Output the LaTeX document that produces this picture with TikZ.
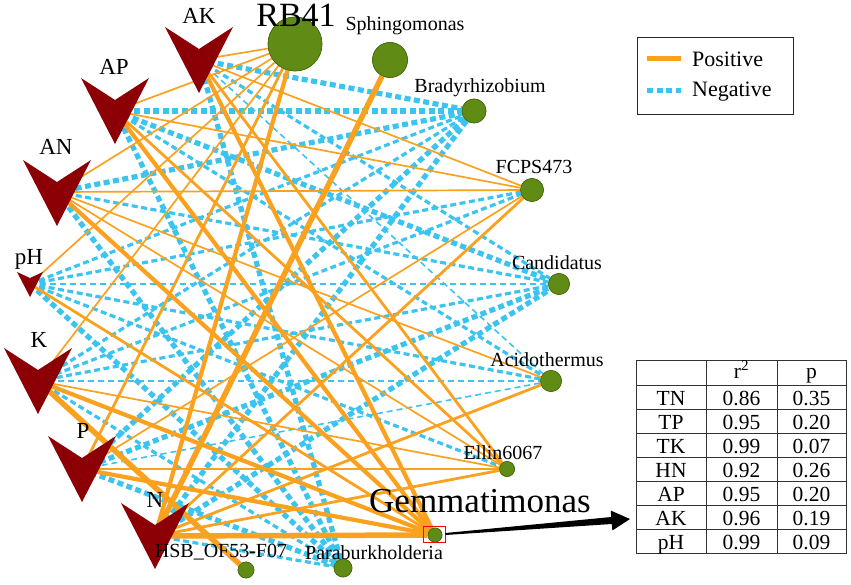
\documentclass[tikz,border=0pt]{standalone}
\usepackage{fontspec}
\setmainfont{Liberation Serif}
\usetikzlibrary{calc}
\definecolor{posc}{RGB}{250,162,32}
\definecolor{negc}{RGB}{60,196,240}
\definecolor{chevc}{RGB}{140,0,5}
\definecolor{bactc}{RGB}{96,140,22}
\definecolor{bactd}{RGB}{70,105,15}
\tikzset{
 pos1/.style={draw=posc, line width=1.7pt},
 pos2/.style={draw=posc, line width=2.8pt},
 pos3/.style={draw=posc, line width=4.2pt},
 pos4/.style={draw=posc, line width=5.5pt},
 neg1/.style={draw=negc, line width=1.6pt, dash pattern=on 6pt off 4pt},
 neg2/.style={draw=negc, line width=3.2pt, dash pattern=on 6pt off 3.5pt},
 neg3/.style={draw=negc, line width=5.2pt, dash pattern=on 6pt off 3.5pt},
 bact/.style={circle, fill=bactc, draw=bactd, line width=0.6pt, inner sep=0pt},
 blab/.style={anchor=base, font=\fontsize{20}{20}\selectfont, inner sep=0pt},
 flab/.style={anchor=base, font=\fontsize{23}{23}\selectfont, inner sep=0pt},
 chevron/.pic={\fill[chevc] (-34,-22) -- (0,0) -- (34,-22) -- (0,44) -- cycle;},
 smallchev/.pic={\fill[chevc] (-13,-6) -- (0,0) -- (13,-6) -- (0,19) -- cycle;},
 tcell/.style={anchor=base, font=\fontsize{21.5}{21.5}\selectfont, inner sep=0pt},
}
\begin{document}
\begin{tikzpicture}[x=1pt,y=-1pt]
\useasboundingbox (0,0) rectangle (851,585);
% factor anchors
\coordinate (AK) at (199,60);
\coordinate (AP) at (115,111);
\coordinate (AN) at (57,192);
\coordinate (pH) at (30,284);
\coordinate (K) at (38,381);
\coordinate (P) at (82,469);
\coordinate (N) at (155,536);
% bacteria
\node[bact, minimum size=54pt] (RB41) at (295,44) {};
\node[bact, minimum size=35pt] (Sph) at (390,60) {};
\node[bact, minimum size=24pt] (Bra) at (474,111) {};
\node[bact, minimum size=23pt] (FCP) at (532,190) {};
\node[bact, minimum size=21pt] (Can) at (559,284) {};
\node[bact, minimum size=21pt] (Aci) at (551,381) {};
\node[bact, minimum size=15pt] (Ell) at (507,469) {};
\node[bact, minimum size=14pt] (Gem) at (435,535) {};
\node[bact, minimum size=18pt] (Par) at (343,568) {};
\node[bact, minimum size=16pt] (HSB) at (246,570) {};
% edges
\foreach \f/\b/\s in {
 AK/Bra/neg3, AP/Bra/neg3, AN/Bra/neg3, pH/Bra/neg2, K/Bra/neg2, P/Bra/neg3, N/Bra/neg3,
 AK/Can/neg2, AP/Can/neg3, AN/Can/neg2, pH/Can/neg1, K/Can/neg2, P/Can/neg3, N/Can/neg3,
 AK/Aci/neg1, AP/Aci/neg2, pH/Aci/neg2, K/Aci/neg1, P/Aci/neg1,
 pH/FCP/neg2, K/FCP/neg2, pH/Ell/neg2,
 AK/Par/neg3, AP/Par/neg3, AN/Par/neg3, pH/Par/neg3, K/Par/neg2, P/Par/neg3, N/Par/neg2,
 AK/RB41/pos1, AP/RB41/pos1, AN/RB41/pos1, pH/RB41/pos1, K/RB41/pos1, P/RB41/pos2, N/RB41/pos3,
 N/Sph/pos4,
 AK/FCP/pos1, AP/FCP/pos1, AN/FCP/pos1, P/FCP/pos1, N/FCP/pos2,
 AN/Aci/pos1, N/Aci/pos2,
 AK/Ell/pos2, AP/Ell/pos2, AN/Ell/pos1, K/Ell/pos1, P/Ell/pos2, N/Ell/pos2,
 AK/Gem/pos3, AP/Gem/pos3, AN/Gem/pos3, pH/Gem/pos2, K/Gem/pos3, P/Gem/pos3, N/Gem/pos4,
 K/HSB/pos4}
 {\draw[\s] (\f) -- (\b);}
% redraw bacteria on top
\foreach \n/\r in {RB41/54, Sph/35, Bra/24, FCP/23, Can/21, Aci/21, Ell/15, Gem/14, Par/18, HSB/16}
 {\fill[bactc] (\n.center) circle (\r/2); \draw[bactd, line width=0.6pt] (\n.center) circle (\r/2);}
% chevrons
\pic at ($(AK)+(0,-11)$) {chevron};
\pic at ($(AP)+(0,-11)$) {chevron};
\pic at ($(AN)+(0,-10)$) {chevron};
\pic at ($(pH)+(0,-6)$) {smallchev};
\pic at ($(K)+(0,-11)$) {chevron};
\pic at ($(P)+(0,-11)$) {chevron};
\pic at ($(N)+(0,-11)$) {chevron};
% factor labels
\node[flab] (lAK) at (199,24) {AK};
\node[flab] (lAP) at (114,75) {AP};
\node[flab] (lAN) at (56,155) {AN};
\node[flab] (lpH) at (29,265) {pH};
\node[flab] (lK) at (39,347) {K};
\node[flab] (lP) at (83,438) {P};
\node[flab] (lN) at (155,507) {N};
% bacteria labels
\node[blab, font=\fontsize{34}{34}\selectfont] (lRB41) at (296,27) {RB41};
\node[blab] (lSph) at (405,31) {Sphingomonas};
\node[blab] (lBra) at (480,93) {Bradyrhizobium};
\node[blab] (lFCP) at (534,174) {FCPS473};
\node[blab] (lCan) at (557,270) {Candidatus};
\node[blab] (lAci) at (547,366) {Acidothermus};
\node[blab] (lEll) at (503,459) {Ellin6067};
\node[blab, font=\fontsize{35}{35}\selectfont] (lGem) at (480,512) {Gemmatimonas};
\node[blab] (lPar) at (374,559) {Paraburkholderia};
\node[blab] (lHSB) at (221,557) {HSB\_OF53-F07};
% highlight box and arrow
\node[draw=red, line width=0.9pt, minimum width=22pt, minimum height=16pt, inner sep=0pt] (gbox) at (434,534) {};
\coordinate (gs) at (gbox.east);
\coordinate (ge) at (630,519);
\coordinate (gb) at ($(gs)!0.9!(ge)$);
\fill[black] ($(gs)!1pt!90:(ge)$) -- ($(gb)!3.5pt!90:(ge)$) -- ($(gb)!10pt!90:(ge)$) -- (ge)
  -- ($(gb)!10pt!-90:(ge)$) -- ($(gb)!3.5pt!-90:(ge)$) -- ($(gs)!1pt!-90:(ge)$) -- cycle;
% legend
\node[draw=black!85, line width=1pt, minimum width=156pt, minimum height=77pt, inner sep=0pt] (leg) at (715,76.5) {};
\coordinate (lp1) at (647,59); \coordinate (lp2) at (681,59);
\coordinate (ln1) at (647,91); \coordinate (ln2) at (681,91);
\draw[draw=posc, line width=5pt] (lp1) -- (lp2);
\draw[draw=negc, line width=5pt, dash pattern=on 6pt off 3.5pt] (ln1) -- (ln2);
\node[anchor=base west, inner sep=0pt, font=\fontsize{22}{22}\selectfont] (tpos) at (692,67) {Positive};
\node[anchor=base west, inner sep=0pt, font=\fontsize{22}{22}\selectfont] (tneg) at (692,97) {Negative};
% table
\draw[black!80, line width=1pt] (636,360) rectangle (846,553);
\foreach \xx in {706,777} \draw[black!80, line width=0.8pt] (\xx,360) -- (\xx,553);
\foreach \yy in {385,409,433,457,481,505,529} \draw[black!80, line width=0.8pt] (636,\yy) -- (846,\yy);
\node[tcell] (hr) at (741.5,378) {r\textsuperscript{2}};
\node[tcell] (hp) at (811.5,378) {p};
\foreach \a/\b/\c [count=\i from 0] in {TN/0.86/0.35, TP/0.95/0.20, TK/0.99/0.07, HN/0.92/0.26, AP/0.95/0.20, AK/0.96/0.19, pH/0.99/0.09}
 {\node[tcell] (ta\i) at (671,405+24*\i) {\a};
  \node[tcell] (tb\i) at (741.5,405+24*\i) {\b};
  \node[tcell] (tc\i) at (811.5,405+24*\i) {\c};}
\end{tikzpicture}
\end{document}
